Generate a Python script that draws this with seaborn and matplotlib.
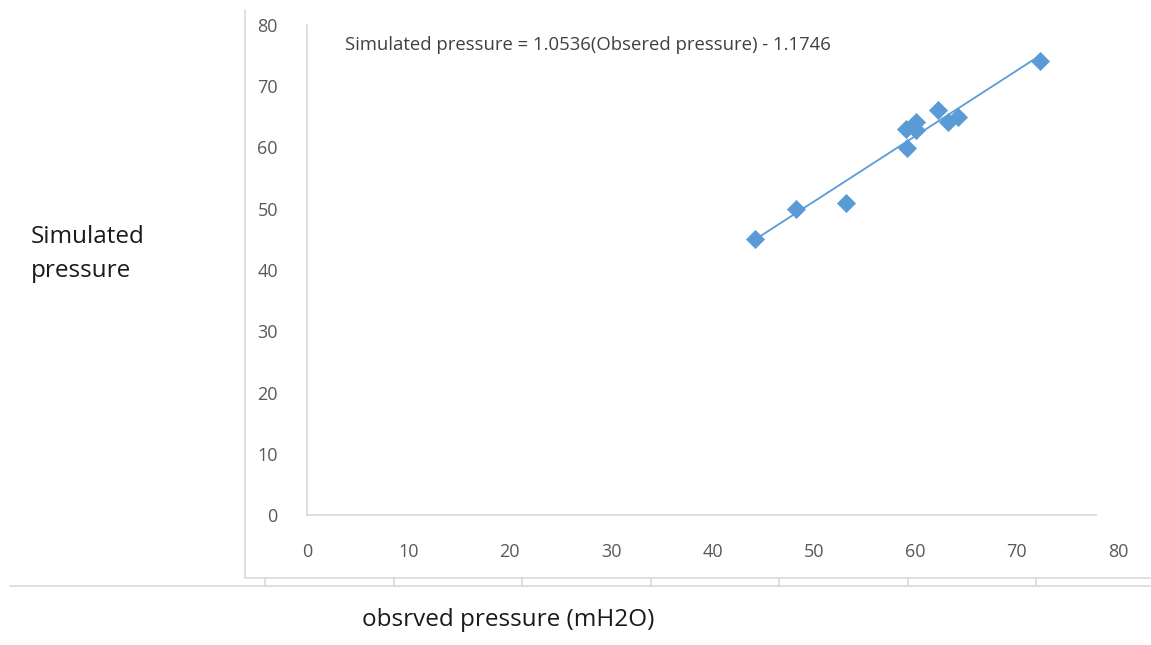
import matplotlib
matplotlib.use("Agg")
import matplotlib.pyplot as plt
from matplotlib.lines import Line2D
import seaborn as sns
import pandas as pd

observed = [44.2, 48.2, 53.2, 59.2, 59.1, 60.1, 60.1, 62.2, 63.2, 64.2, 72.3]
simulated = [45.0, 49.9, 51.0, 60.0, 63.1, 64.2, 62.9, 66.2, 64.1, 64.9, 74.2]
x_ticks = [0, 10, 20, 30, 40, 50, 60, 70, 80]
y_ticks = [0, 10, 20, 30, 40, 50, 60, 70, 80]
equation = "Simulated pressure = 1.0536(Obsered pressure) - 1.1746"
x_label = "obsrved pressure (mH2O)"
y_label = "Simulated\npressure"

df = pd.DataFrame({"observed": observed, "simulated": simulated})

sns.set_theme(style="white")
plt.rcParams['font.family'] = ['Open Sans', 'DejaVu Sans']

W, H = 1151, 645
fig = plt.figure(figsize=(W / 100, H / 100), dpi=100)
ax = fig.add_axes([307 / W, 1 - 515 / H, 811 / W, 490 / H])

blue = "#5B9BD5"
sns.regplot(data=df, x="observed", y="simulated", ax=ax, ci=None, truncate=True,
            marker="D", color=blue,
            scatter_kws={"s": 85, "edgecolors": blue, "linewidths": 0.5, "alpha": 1},
            line_kws={"linewidth": 1.3})

ax.set_xlim(0, 80)
ax.set_ylim(0, 80)
ax.set_xticks(x_ticks)
ax.set_yticks(y_ticks)
ax.set_xticklabels([str(v) for v in x_ticks])
ax.set_yticklabels([str(v) for v in y_ticks])
ax.tick_params(axis="both", length=0, labelsize=13, labelcolor="#595959")
ax.tick_params(axis="x", pad=20)
ax.tick_params(axis="y", pad=21)
ax.set_xlabel("")
ax.set_ylabel("")
for s in ["top", "right"]:
    ax.spines[s].set_visible(False)
for s in ["left", "bottom"]:
    ax.spines[s].set_color("#d9d9d9")
    ax.spines[s].set_linewidth(1.2)
ax.spines["bottom"].set_bounds(0, 77.8)
ax.patch.set_alpha(0)

ax.text(3.7, 76.8, equation, fontsize=13.3, color="#404040", va="center", ha="left")

# outer frame lines (figure pixel coords)
def fx(px):
    return px / W

def fy(py):
    return 1 - py / H

gray = "#d9d9d9"
fig.add_artist(Line2D([fx(245), fx(245)], [fy(10), fy(578)], color=gray, lw=1.2))
fig.add_artist(Line2D([fx(245), fx(1151)], [fy(578), fy(578)], color=gray, lw=1.2))
fig.add_artist(Line2D([fx(10), fx(1151)], [fy(586), fy(586)], color=gray, lw=1.2))
for k in range(7):
    xp = 265 + 128.5 * k
    fig.add_artist(Line2D([fx(xp), fx(xp)], [fy(578), fy(586)], color=gray, lw=1.2))

fig.text(fx(31), fy(254), y_label, fontsize=17.5, color="#1a1a1a", ha="left", va="center",
         linespacing=1.55)
fig.text(fx(508), fy(620), x_label, fontsize=17.5, color="#1a1a1a", ha="center", va="center")

fig.savefig("out.png", dpi=100)
